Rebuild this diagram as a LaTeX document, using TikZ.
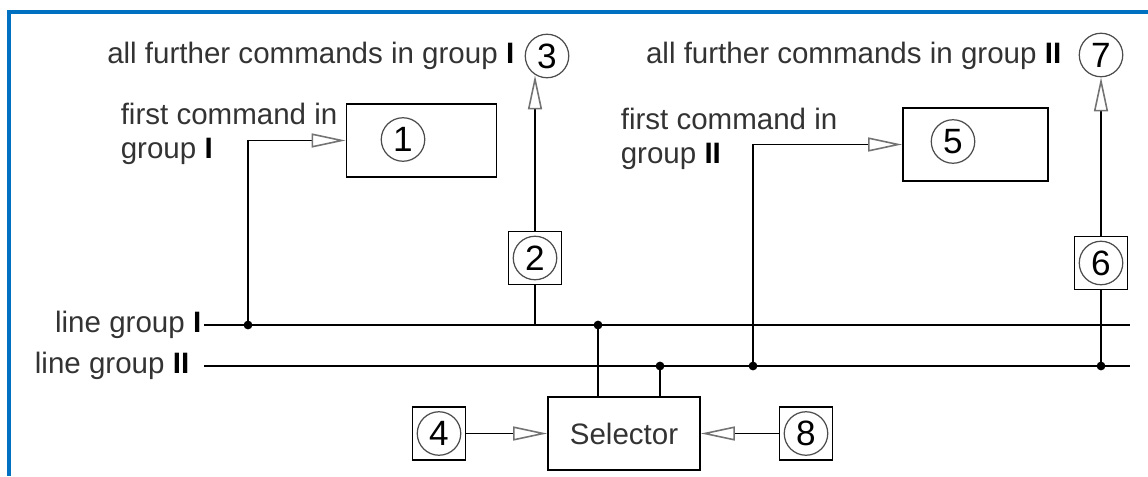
\documentclass[tikz,border=0pt]{standalone}
\usepackage{fontspec}
\setmainfont{Liberation Sans}
\usetikzlibrary{arrows.meta}
\definecolor{frameblue}{RGB}{0,112,192}

\begin{document}
\begin{tikzpicture}[
			line width=0.9pt,
			box/.style={
				rectangle,
				draw,
				line width=1pt,
				minimum width=3cm,
				minimum height=1.46cm,
				text=black!80,
				font=\fontsize{16.8}{19}\selectfont
			},
			numbox/.style={
				rectangle,
				draw,
				line width=1pt,
				minimum size=1.06cm
			},
			num/.style={
				circle,
				draw=black!70,
				line width=0.7pt,
				minimum size=0.87cm,
				inner sep=0pt,
				font=\fontsize{20}{20}\selectfont
			},
			lbl/.style={
				align=left,
				inner sep=0pt,
				text=black!80,
				font=\fontsize{16.8}{19}\selectfont
			},
			dot/.style={
				circle,
				fill,
				inner sep=0pt,
				minimum size=5pt
			},
			arrow/.style={
				-{Triangle[open,length=0.68cm,width=0.28cm,color=black!55]}
			}
			]
			
			\useasboundingbox (0,0) rectangle (22.96,9.52);
			\draw [frameblue, line width=2.3pt] (0.18,0) -- (0.18,9.28) -- (22.96,9.28);
			
			% group I
			\node (c3) [num] at (10.94,8.40) {3};
			\node (far1) [lbl, anchor=east] at (10.30,8.40) {all further commands in group \textcolor{black}{\textbf{I}}};
			\node (first1) [lbl, anchor=west] at (2.4,6.84) {first command in\\group \textcolor{black}{\textbf{I}}};
			\node (box1) [box] at (8.43,6.71) {};
			\node (n1) [num] at (8.06,6.73) {1};
			\node (box2) [numbox] at (10.70,4.36) {};
			\node (n2) [num] at (box2) {2};
			
			% group II
			\node (c7) [num] at (22.02,8.42) {7};
			\node (far2) [lbl, anchor=east] at (21.24,8.40) {all further commands in group \textcolor{black}{\textbf{II}}};
			\node (first2) [lbl, anchor=west] at (12.4,6.74) {first command in\\group \textcolor{black}{\textbf{II}}};
			\node (box5) [box, minimum width=2.9cm] at (19.51,6.63) {};
			\node (n5) [num] at (19.06,6.69) {5};
			\node (box6) [numbox] at (22.02,4.26) {};
			\node (n6) [num] at (box6) {6};
			
			% lines
			\node (lineI) [lbl, anchor=east] at (4.04,3.02) {line group \textcolor{black}{\textbf{I}}};
			\node (lineII) [lbl, anchor=east] at (3.80,2.20) {line group \textcolor{black}{\textbf{II}}};
			\coordinate (busIa) at (4.08,3.02);
			\coordinate (busIb) at (22.60,3.02);
			\coordinate (busIIa) at (4.08,2.20);
			\coordinate (busIIb) at (22.60,2.20);
			\node (jI1) [dot] at (4.96,3.02) {};
			\node (jI2) [dot] at (11.96,3.02) {};
			\node (jII1) [dot] at (13.20,2.20) {};
			\node (jII2) [dot] at (15.06,2.20) {};
			\node (jII3) [dot] at (22.02,2.20) {};
			
			% selector
			\node (sel) [box, minimum width=3.04cm] at (12.48,0.85) {Selector};
			\node (box4) [numbox] at (8.78,0.85) {};
			\node (n4) [num] at (box4) {4};
			\node (box8) [numbox] at (16.12,0.85) {};
			\node (n8) [num] at (box8) {8};
			
			\draw (busIa) -- (busIb);
			\draw (busIIa) -- (busIIb);
			\draw [arrow] (jI1.center) |- (box1);
			\draw (box2) -- (box2 |- busIa);
			\draw [arrow] (box2.north) -- (box2.north |- c3.240);
			\draw [arrow] (jII2.center) |- (box5);
			\draw (box6) -- (jII3.center);
			\draw [arrow] (box6) -- (c7);
			\draw (jI2.center) -- (jI2 |- sel.north);
			\draw (jII1.center) -- (jII1 |- sel.north);
			\draw [arrow] (box4) -- (sel);
			\draw [arrow] (box8) -- (sel);
			
		\end{tikzpicture}
\end{document}
